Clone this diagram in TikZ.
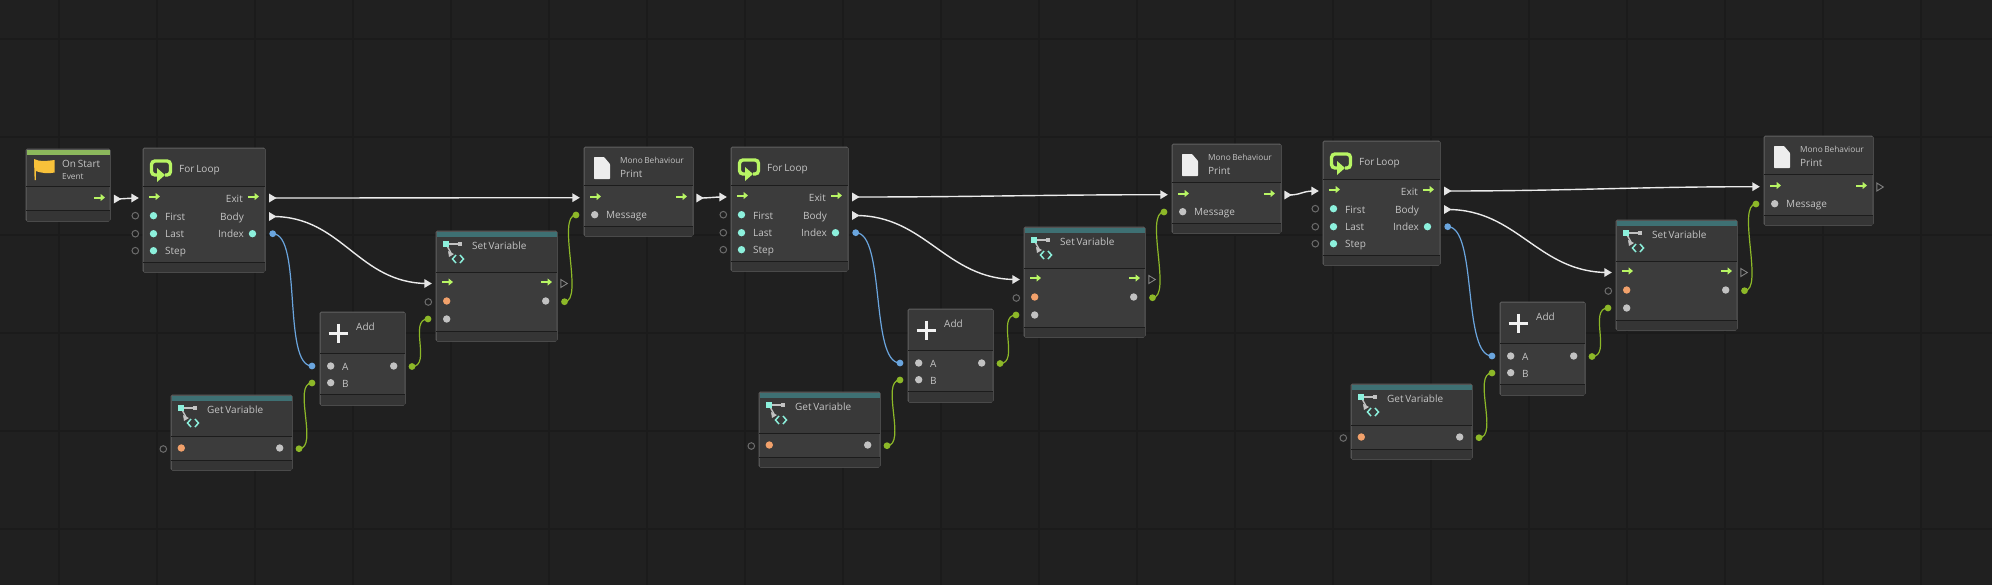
\documentclass[tikz,border=0pt]{standalone}
\usepackage{fontspec}
\setmainfont[WordSpace=0.7]{Open Sans}
\usetikzlibrary{arrows.meta}
\definecolor{canvasgray}{HTML}{202020}
\definecolor{gridgray}{HTML}{1B1B1B}
\definecolor{boxgray}{HTML}{3C3C3C}
\definecolor{headgray}{HTML}{393939}
\definecolor{footgray}{HTML}{353535}
\definecolor{edgegray}{HTML}{606060}
\definecolor{rowgray}{HTML}{1C1C1C}
\definecolor{textgray}{HTML}{C4C4C4}
\definecolor{dotgray}{HTML}{C2C2C2}
\definecolor{flowgreen}{HTML}{B8F564}
\definecolor{dotcyan}{HTML}{8CF0DC}
\definecolor{dotorange}{HTML}{F2A16B}
\definecolor{linegreen}{HTML}{8DB828}
\definecolor{lineblue}{HTML}{6AA5DE}
\definecolor{barteal}{HTML}{3E7073}
\definecolor{bargreen}{HTML}{8CB85C}
\definecolor{flagyellow}{HTML}{F8C13A}
\tikzset{
  nodebox/.style={draw=edgegray,fill=boxgray,line width=1pt,rounded corners=1.5pt,anchor=north west,inner sep=0pt,outer sep=0pt},
  rowline/.style={draw=rowgray,line width=1pt},
  title/.style={text=textgray,anchor=west,inner sep=0pt,text height=7.5pt,text depth=0pt,font=\fontsize{10}{12}\selectfont},
  small title/.style={title,font=\fontsize{8.3}{10}\selectfont},
  port label/.style={title,font=\fontsize{10}{12}\selectfont},
  port label right/.style={port label,anchor=east},
  flowarrow/.style={draw=flowgreen,line width=2pt,-{Triangle[length=4.5pt,width=7pt]}},
  hollow/.style={draw=gray!85!black,line width=1pt},
  flowon/.style={fill=white!90!black},
  flowoff/.style={draw=gray,line width=0.9pt},
  flowline/.style={draw=white!92!black,line width=1.4pt},
  valueline/.style={draw=linegreen,line width=1.2pt},
  indexline/.style={draw=lineblue,line width=1.2pt},
}
% shell of a graph unit: width, height, first and second divider
\newcommand{\unitshell}[4]{
  \node[nodebox,minimum width=#1pt,minimum height=#2pt] (-box) at (0,0) {};
  \fill[headgray] (0.5,0.5) rectangle (#1-0.5,#3);
  \fill[footgray] (0.5,#4) rectangle (#1-0.5,#2-0.5);
  \draw[rowline] (0,#3) -- (#1,#3);
  \draw[rowline] (0,#4) -- (#1,#4);
}
\newcommand{\varicon}{
  \draw[draw=dotgray,line width=1.4pt] (10,13) -- (24,13);
  \draw[draw=dotgray,line width=1.4pt] (10,13) -- (15,22);
  \fill[dotgray] (21.5,10.5) rectangle (26,15);
  \fill[dotgray] (12,20) -- (18,23) -- (13,26) -- cycle;
  \fill[dotcyan] (7,10) rectangle (13.3,16.3);
  \draw[draw=dotcyan,line width=1.5pt] (20,24) -- (16.5,28) -- (20,32);
  \draw[draw=dotcyan,line width=1.5pt] (24,24) -- (27.5,28) -- (24,32);
}
\tikzset{
  pics/onstart/.style={code={
    \unitshell{84}{72}{37}{61}
    \fill[bargreen] (0.5,0.5) rectangle (83.5,6);
    \fill[flagyellow] (8,10) .. controls (14,13) and (20,12) .. (28.7,11) -- (28.7,23.5) .. controls (22,25) and (15,24) .. (9.8,22) -- (9.8,31) -- (8.6,31) -- cycle;
    \node[title] (-title) at (36,14.5) {On Start};
    \node[small title] (-event) at (36,27) {Event};
    \draw[flowarrow] (68,48.5) -- (79,48.5);
    \coordinate (-out) at (91.5,50);
  }},
  pics/forloop/.style={code={
    \unitshell{#1}{124}{38}{114}
    \draw[draw=flowgreen,line width=3.4pt,rounded corners=3.5pt] (15,27) -- (8.5,27) -- (8.5,13) -- (27.5,13) -- (27.5,27) -- (22,27);
    \fill[flowgreen] (14,20) -- (22,27) -- (14,34) -- cycle;
    \node[title] (-title) at (36,21) {For Loop};
    \draw[flowarrow] (6,48.5) -- (17,48.5);
    \draw[flowarrow] (#1-17,48.5) -- (#1-6,48.5);
    \node[port label right] (-texit) at (#1-22,51) {Exit};
    \node[port label right] (-tbody) at (#1-21,68.7) {Body};
    \node[port label right] (-tindex) at (#1-21,85.7) {Index};
    \node[port label] (-tfirst) at (22,68.7) {First};
    \node[port label] (-tlast) at (22,85.7) {Last};
    \node[port label] (-tstep) at (22,102.7) {Step};
    \foreach \r in {67.7,85.7,102.7} {
      \fill[dotcyan] (10.5,\r) circle[radius=3.7];
      \draw[hollow] (-7.7,\r) circle[radius=3.3];
    }
    \fill[dotcyan] (#1-12.5,85.7) circle[radius=3.7];
    \coordinate (-in) at (-8,50);
    \coordinate (-exit) at (#1+7.7,50);
    \coordinate (-body) at (#1+7.7,68.5);
    \coordinate (-index) at (#1+7.7,85.7);
  }},
  pics/print/.style={code={
    \unitshell{109}{89}{38}{79}
    \fill[white!93!black,rounded corners=0.7pt] (10,10) -- (20,10) -- (26,17) -- (26,32) -- (10,32) -- cycle;
    \node[small title] (-kind) at (36,13) {Mono Behaviour};
    \node[title] (-title) at (36,26.5) {Print};
    \draw[flowarrow] (6,49.5) -- (17,49.5);
    \draw[flowarrow] (92,49.5) -- (103,49.5);
    \fill[dotgray] (10.7,67.7) circle[radius=3.7];
    \node[port label] (-tmessage) at (22,68) {Message};
    \coordinate (-in) at (-8,50.7);
    \coordinate (-out) at (116,51);
    \coordinate (-message) at (-8,68);
  }},
  pics/setvar/.style={code={
    \unitshell{121}{110}{41}{100}
    \fill[barteal] (0.5,0.5) rectangle (120.5,6);
    \varicon
    \node[title] (-title) at (36,14.7) {Set Variable};
    \draw[flowarrow] (6,51) -- (17,51);
    \draw[flowarrow] (105,51) -- (116,51);
    \fill[dotorange] (10.7,70) circle[radius=3.7];
    \fill[dotgray] (10.7,88) circle[radius=3.7];
    \fill[dotgray] (109.7,70) circle[radius=3.7];
    \draw[hollow] (-7.7,71) circle[radius=3.3];
    \coordinate (-in) at (-8,52.5);
    \coordinate (-out) at (128,52.5);
    \coordinate (-value) at (128.5,70.7);
    \coordinate (-input) at (-8,88);
  }},
  pics/getvar/.style={code={
    \unitshell{121}{75}{41}{65}
    \fill[barteal] (0.5,0.5) rectangle (120.5,6);
    \varicon
    \node[title] (-title) at (36,14.3) {Get Variable};
    \fill[dotorange] (10.3,53) circle[radius=3.7];
    \fill[dotgray] (108.7,53) circle[radius=3.7];
    \draw[hollow] (-7.7,54) circle[radius=3.3];
    \coordinate (-value) at (128,53.7);
  }},
  pics/adder/.style={code={
    \unitshell{85}{93}{41}{82}
    \draw[draw=white!95!black,line width=3pt] (8.5,21) -- (27.5,21);
    \draw[draw=white!95!black,line width=3pt] (18,11.5) -- (18,30.5);
    \node[title] (-title) at (36,14.7) {Add};
    \fill[dotgray] (10.7,54) circle[radius=3.7];
    \fill[dotgray] (10.7,70.7) circle[radius=3.7];
    \fill[dotgray] (73.7,54) circle[radius=3.7];
    \node[port label] (-ta) at (22,54.5) {A};
    \node[port label] (-tb) at (22,71.5) {B};
    \coordinate (-a) at (-8,54);
    \coordinate (-b) at (-8,71);
    \coordinate (-sum) at (92,54.5);
  }},
}
\begin{document}
\begin{tikzpicture}[x=1pt,y=-1pt]
   \useasboundingbox (0,0) rectangle (1992,584);
   \fill[canvasgray] (-3,-3) rectangle (1995,587);
   \foreach \k in {0,...,19} \draw[gridgray,line width=1.3pt] (59+98*\k,-3) -- (59+98*\k,587);
   \foreach \k in {0,...,5} \draw[gridgray,line width=1.1pt] (-3,39+98*\k) -- (1995,39+98*\k);

   \pic (o1) at (26,149) {onstart};
   \pic (f1) at (143,148) {forloop=122};
   \pic (p1) at (584,147) {print};
   \pic (s1) at (436,231) {setvar};
   \pic (a1) at (320,312) {adder};
   \pic (g1) at (171,395) {getvar};

   \pic (f2) at (731,147) {forloop=117};
   \pic (p2) at (1172,144) {print};
   \pic (s2) at (1024,227) {setvar};
   \pic (a2) at (908,309) {adder};
   \pic (g2) at (759,392) {getvar};

   \pic (f3) at (1323,141) {forloop=117};
   \pic (p3) at (1764,136) {print};
   \pic (s3) at (1616,220) {setvar};
   \pic (a3) at (1500,302) {adder};
   \pic (g3) at (1351,384) {getvar};

   % flow
   \path (o1-out) edge[flowline] (f1-in);
   \path (f1-exit) edge[flowline,out=0,in=180] (p1-in);
   \path (f1-body) edge[flowline,out=0,in=180,distance=70pt] (s1-in);
   \path (p1-out) edge[flowline,out=0,in=180,distance=10pt] (f2-in);
   \path (f2-exit) edge[flowline,out=0,in=180] (p2-in);
   \path (f2-body) edge[flowline,out=0,in=180,distance=70pt] (s2-in);
   \path (p2-out) edge[flowline,out=0,in=180,distance=14pt] (f3-in);
   \path (f3-exit) edge[flowline,out=0,in=180] (p3-in);
   \path (f3-body) edge[flowline,out=0,in=180,distance=70pt] (s3-in);

   % values
   \foreach \n in {1,2,3} {
     \path (f\n-index) edge[indexline,out=0,in=180,distance=30pt] (a\n-a);
     \path (g\n-value) edge[valueline,out=0,in=180,distance=20pt] (a\n-b);
     \path (a\n-sum) edge[valueline,out=0,in=180,distance=20pt] (s\n-input);
     \path (s\n-value) edge[valueline,out=0,in=180,distance=20pt] (p\n-message);
     \fill[lineblue] (f\n-index) circle[radius=3.4];
     \fill[lineblue] (a\n-a) circle[radius=3.4];
     \foreach \p in {g\n-value,a\n-b,a\n-sum,s\n-input,s\n-value,p\n-message}
       \fill[linegreen] (\p) circle[radius=3.4];
   }

   % flow ports
   \foreach \p in {o1-out,f1-in,f1-exit,f1-body,p1-in,p1-out,s1-in,f2-in,f2-exit,f2-body,p2-in,p2-out,s2-in,f3-in,f3-exit,f3-body,p3-in,s3-in}
     \fill[flowon] (\p) ++(-3.7,-4.5) -- ++(7.5,4.5) -- ++(-7.5,4.5) -- cycle;
   \foreach \p in {s1-out,s2-out,s3-out,p3-out}
     \draw[flowoff] (\p) ++(-3.2,-4) -- ++(6.5,4) -- ++(-6.5,4) -- cycle;
\end{tikzpicture}
\end{document}
